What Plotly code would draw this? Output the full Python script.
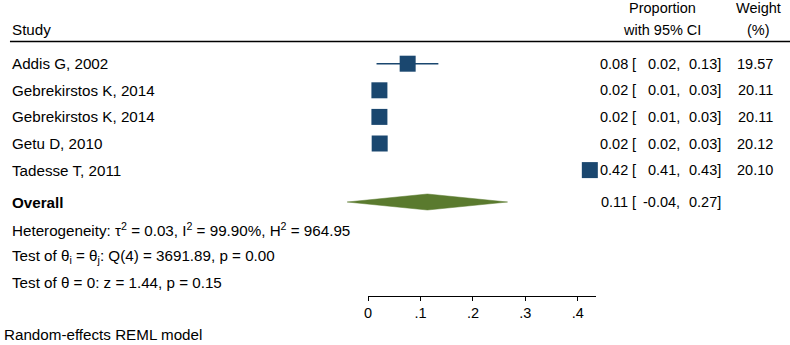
import plotly.graph_objects as go

# ---- data ----
studies = ["Addis G, 2002", "Gebrekirstos K, 2014", "Gebrekirstos K, 2014", "Getu D, 2010", "Tadesse T, 2011"]
est = [0.0754, 0.0215, 0.0215, 0.022, 0.423]
lo = [0.016, 0.01, 0.01, 0.02, 0.41]
hi = [0.134, 0.03, 0.03, 0.03, 0.43]
est_lbl = ["0.08", "0.02", "0.02", "0.02", "0.42"]
lo_lbl = ["0.02", "0.01", "0.01", "0.02", "0.41"]
hi_lbl = ["0.13", "0.03", "0.03", "0.03", "0.43"]
weights = ["19.57", "20.11", "20.11", "20.12", "20.10"]
overall = {"est": 0.113, "lo": -0.04, "hi": 0.266, "est_lbl": "0.11", "lo_lbl": "-0.04", "hi_lbl": "0.27"}
tick_vals = [0, 0.1, 0.2, 0.3, 0.4]
tick_text = ["0", ".1", ".2", ".3", ".4"]

W, H = 790, 345
FONT = "Liberation Sans, Arial, sans-serif"
FS = 14.5
FSL = 15.2
NAVY = "#1a476f"
GREEN = "#5a7a2e"

# pixel layout helpers
ROW0, ROWH = 63.7, 26.6
def ry(p):
    return (p - ROW0) / ROWH
X0PX, XSCALE = 366.0, 526.75
def px(x):
    return x / W

rows = list(range(len(studies)))
y_over = ry(202)

fig = go.Figure()

# invisible trace for the visible axis (drawn first so its subplot sits below)
fig.add_trace(go.Scatter(x=[0, 0.4], y=[0, 0], xaxis="x2", yaxis="y",
                         mode="markers", marker=dict(opacity=0, size=1), hoverinfo="skip",
                         showlegend=False))

# study markers with CI
fig.add_trace(go.Scatter(
    x=est, y=rows, mode="markers",
    marker=dict(symbol="square", size=16, color=NAVY, line=dict(width=0)),
    error_x=dict(type="data", symmetric=False,
                 array=[h - e for h, e in zip(hi, est)],
                 arrayminus=[e - l for e, l in zip(est, lo)],
                 color=NAVY, thickness=1.5, width=0),
    hoverinfo="skip", showlegend=False, cliponaxis=False,
))

# overall diamond
dh = 8 / ROWH
fig.add_trace(go.Scatter(
    x=[overall["lo"], overall["est"], overall["hi"], overall["est"], overall["lo"]],
    y=[y_over, y_over - dh, y_over, y_over + dh, y_over],
    mode="lines", fill="toself", fillcolor=GREEN,
    line=dict(color=GREEN, width=0.5),
    hoverinfo="skip", showlegend=False,
))

ann = []
def text(x, y, s, anchor="left", size=FS):
    ann.append(dict(x=px(x), y=y, xref="paper", yref="y", text=s, showarrow=False,
                    xanchor=anchor, yanchor="middle", borderpad=0,
                    font=dict(family=FONT, size=size, color="black")))

# headers
text(7, ry(29.5), "Study", size=FSL)
text(662, ry(8), "Proportion", "center")
text(661, ry(30), "with 95% CI", "center")
text(758, ry(8), "Weight", "center")
text(758, ry(30), "(%)", "center")

def ci_row(y, e, l, h):
    text(628, y, e, "right")
    text(630, y, "[", "left")
    text(680.5, y, l + ",", "right")
    text(721.5, y, h + "]", "right")

for i, s in enumerate(studies):
    text(7, i, s, size=FSL)
    ci_row(i, est_lbl[i], lo_lbl[i], hi_lbl[i])
    text(774, i, weights[i], "right")

text(7, y_over, "<b>Overall</b>", size=FSL)
ci_row(y_over, overall["est_lbl"], overall["lo_lbl"], overall["hi_lbl"])

text(7, ry(229.5), "Heterogeneity: τ<sup>2</sup> = 0.03, I<sup>2</sup> = 99.90%, H<sup>2</sup> = 964.95", size=FSL)
text(7, ry(256), "Test of θ<sub>i</sub> = θ<sub>j</sub>: Q(4) = 3691.89, p = 0.00", size=FSL)
text(7, ry(282.5), "Test of θ = 0: z = 1.44, p = 0.15", size=FSL)
text(-1, ry(334), "Random-effects REML model", size=FSL)

fig.update_layout(
    width=W, height=H,
    margin=dict(l=0, r=0, t=0, b=0),
    paper_bgcolor="white", plot_bgcolor="rgba(0,0,0,0)",
    annotations=ann,
    shapes=[dict(type="line", xref="paper", yref="y", x0=6 / W, x1=1,
                 y0=ry(41.5), y1=ry(41.5), line=dict(color="black", width=1.5))],
    xaxis=dict(domain=[0, 1], range=[-X0PX / XSCALE, (W - X0PX) / XSCALE],
               visible=False, fixedrange=True),
    xaxis2=dict(domain=[X0PX / W, 595 / W], range=[0, (595 - X0PX) / XSCALE],
                anchor="free", position=1 - 296 / H,
                showline=True, linecolor="black", linewidth=1,
                ticks="outside", ticklen=4, tickwidth=1, tickcolor="black",
                tickvals=tick_vals, ticktext=tick_text, showgrid=False, zeroline=False,
                fixedrange=True,
                tickfont=dict(family=FONT, size=FS, color="black")),
    yaxis=dict(domain=[0, 1], range=[ry(H), ry(0)], visible=False, fixedrange=True),
)

fig.write_html("out.html", config={"displayModeBar": False},
               post_script="document.body.style.margin='0px';document.body.style.overflow='hidden';")
